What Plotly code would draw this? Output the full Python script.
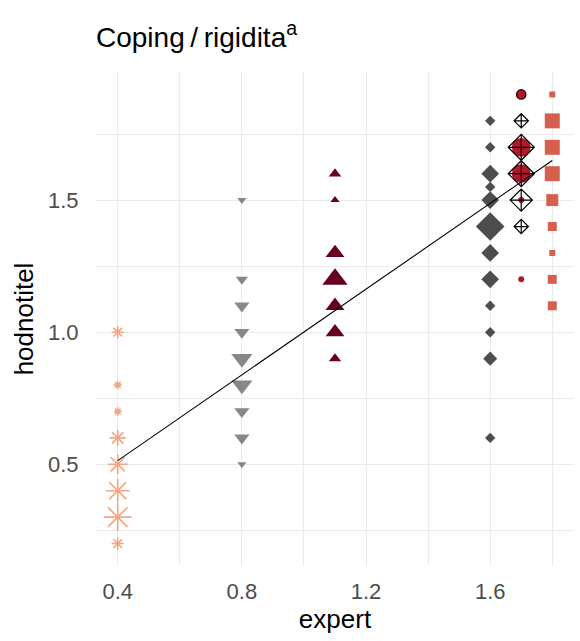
import plotly.graph_objects as go

# Observations grouped by expert rating; counts give the number of raters at each value
g1_x = 0.4
g1_y = [1.0, 0.8, 0.7, 0.6, 0.5, 0.4, 0.3, 0.2]
g1_n = [2, 1, 1, 3, 4, 5, 6, 2]

g2_x = 0.8
g2_y = [1.5, 1.2, 1.1, 1.0, 0.9, 0.8, 0.7, 0.6, 0.5]
g2_n = [1, 2, 3, 3, 5, 5, 3, 3, 1]

g3_x = 1.1
g3_y = [1.6, 1.5, 1.3, 1.2, 1.1, 1.0, 0.9]
g3_n = [2, 1, 4, 6, 4, 4, 2]

g4_x = 1.6
g4_y = [1.8, 1.7, 1.6, 1.55, 1.5, 1.4, 1.3, 1.2, 1.1, 1.0, 0.9, 0.6]
g4_n = [1, 1, 3, 1, 3, 6, 3, 3, 1, 1, 2, 1]

g5_x = 1.7
g5_y = [1.9, 1.7, 1.6, 1.5, 1.2]
g5_n = [2, 5, 5, 1, 1]

g6_x = 1.7
g6_y = [1.8, 1.7, 1.6, 1.5, 1.4]
g6_n = [2, 5, 5, 4, 2]

g7_x = 1.8
g7_y = [1.9, 1.8, 1.7, 1.6, 1.5, 1.4, 1.3, 1.2, 1.1]
g7_n = [1, 4, 4, 4, 3, 2, 1, 2, 2]

# Linear fit endpoints
fit_x = [0.4, 1.8]
fit_y = [0.514, 1.65]


def px(counts, base=5.0, step=3.0):
    return [base + step * (c - 1) for c in counts]


fig = go.Figure()

fig.add_trace(go.Scatter(
    x=[g1_x] * len(g1_y), y=g1_y, mode="markers",
    marker=dict(symbol="asterisk-open", size=px(g1_n, 7, 3.2), color="#F4A582",
                opacity=1, line=dict(color="#F4A582", width=1.6)),
))
fig.add_trace(go.Scatter(
    x=[g2_x] * len(g2_y), y=g2_y, mode="markers",
    marker=dict(symbol="triangle-down", size=px(g2_n, 8, 2.6), color="#878787",
                opacity=1, line=dict(width=0)),
))
fig.add_trace(go.Scatter(
    x=[g3_x] * len(g3_y), y=g3_y, mode="markers",
    marker=dict(symbol="triangle-up", size=px(g3_n, 8, 2.8), color="#67001F",
                opacity=1, line=dict(width=0)),
))
fig.add_trace(go.Scatter(
    x=[g4_x] * len(g4_y), y=g4_y, mode="markers",
    marker=dict(symbol="diamond", size=px(g4_n, 8, 2.8), color="#4D4D4D",
                opacity=1, line=dict(width=0)),
))
fig.add_trace(go.Scatter(
    x=[g5_x] * len(g5_y), y=g5_y, mode="markers",
    marker=dict(symbol="circle", size=px(g5_n, 6, 3.2), color="#B2182B",
                opacity=1, line=dict(width=[1.5, 0, 0, 0, 0], color="#3A0010")),
))
fig.add_trace(go.Scatter(
    x=[g6_x] * len(g6_y), y=g6_y, mode="markers",
    marker=dict(symbol="diamond-cross-open", size=px(g6_n, 8, 3.0), color="#000000",
                opacity=1, line=dict(color="#000000", width=1.2)),
))
fig.add_trace(go.Scatter(
    x=[g7_x] * len(g7_y), y=g7_y, mode="markers",
    marker=dict(symbol="square", size=px(g7_n, 6, 3.0), color="#D6604D",
                opacity=1, line=dict(width=0)),
))
fig.add_trace(go.Scatter(
    x=fit_x, y=fit_y, mode="lines",
    line=dict(color="#000000", width=1.1),
))

font = "Liberation Sans, Arial, sans-serif"
grid = "#EBEBEB"

fig.update_layout(
    width=580, height=641,
    margin=dict(l=96, r=6, t=72, b=75),
    paper_bgcolor="white", plot_bgcolor="white",
    showlegend=False,
    font=dict(family=font, color="#000000"),
    title=dict(
        text="Coping\u2009/\u2009rigidita<sup>a</sup>",
        font=dict(size=28, family=font, color="#000000"),
        xref="paper", x=0, xanchor="left",
        yref="container", y=1 - 37 / 641, yanchor="middle",
    ),
    xaxis=dict(
        range=[0.33, 1.87], tickvals=[0.4, 0.8, 1.2, 1.6],
        ticktext=["0.4", "0.8", "1.2", "1.6"],
        showgrid=True, gridcolor=grid, gridwidth=1.3,
        minor=dict(tickvals=[0.6, 1.0, 1.4, 1.8], showgrid=True,
                   gridcolor=grid, gridwidth=0.7),
        zeroline=False, showline=False,
        ticks="outside", ticklen=6, tickcolor="rgba(0,0,0,0)",
        tickfont=dict(size=22, color="#4D4D4D", family=font),
        title=dict(text="expert", font=dict(size=26, color="#000000", family=font),
                   standoff=4),
    ),
    yaxis=dict(
        range=[0.115, 1.985], tickvals=[0.5, 1.0, 1.5],
        ticktext=["0.5", "1.0", "1.5"],
        showgrid=True, gridcolor=grid, gridwidth=1.3,
        minor=dict(tickvals=[0.25, 0.75, 1.25, 1.75], showgrid=True,
                   gridcolor=grid, gridwidth=0.7),
        zeroline=False, showline=False,
        ticks="outside", ticklen=12, tickcolor="rgba(0,0,0,0)",
        tickfont=dict(size=22, color="#4D4D4D", family=font),
        title=dict(text="hodnotitel", font=dict(size=26, color="#000000", family=font),
                   standoff=6),
    ),
)

fig.write_html("out.html")
